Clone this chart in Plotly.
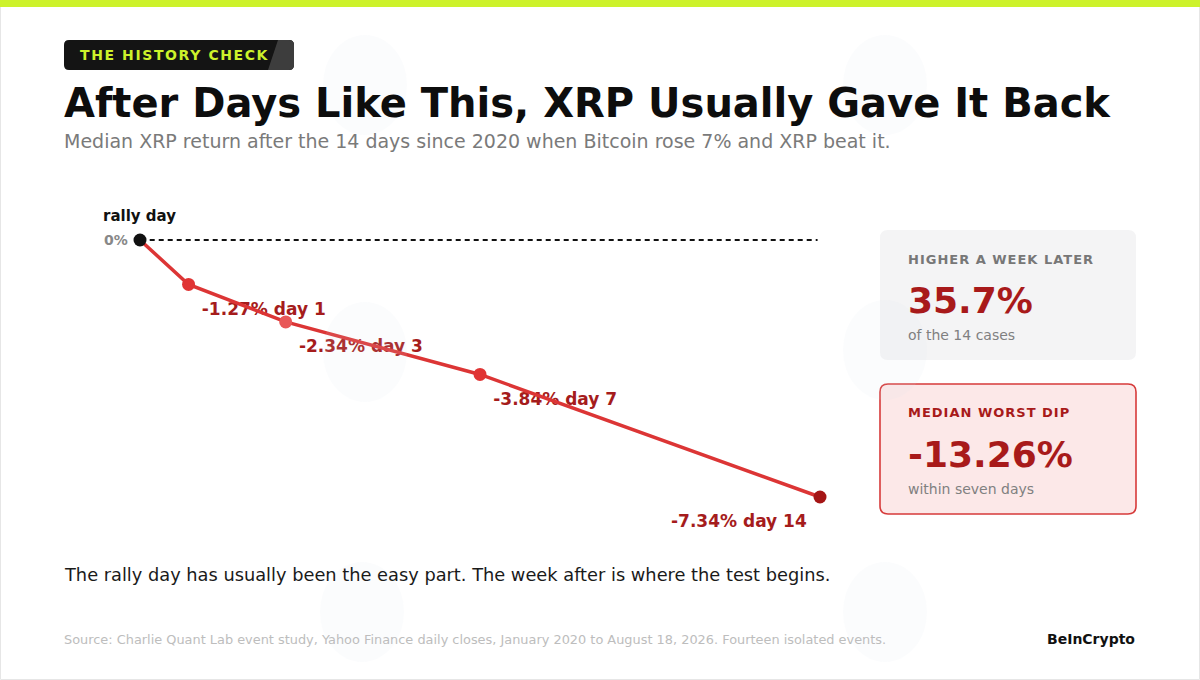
import plotly.graph_objects as go

# ---- data ----
DAYS = [0, 1, 3, 7, 14]
MEDIAN_RETURN = [0.0, -1.27, -2.34, -3.84, -7.34]
POINT_COLORS = ["#111111", "#e03434", "#e85858", "#e03434", "#a51515"]
LABEL_POS = ["middle right", "middle right", "middle right", "middle right", "middle left"]

HIGHER_WEEK_LATER = 35.7
CASES = 14
WORST_DIP = -13.26

W, H = 1200, 680
RED_TXT = "#a51c1c"
FONT = "DejaVu Sans"


def px(x):
    return x / W


def py(y):
    return 1 - y / H


def rrect(x0, y0, x1, y1, r):
    # rounded rectangle path in paper coords from pixel box
    X0, X1 = px(x0), px(x1)
    Y0, Y1 = py(y0), py(y1)
    rx, ry = r / W, r / H
    return (f"M {X0+rx},{Y0} L {X1-rx},{Y0} Q {X1},{Y0} {X1},{Y0-ry} "
            f"L {X1},{Y1+ry} Q {X1},{Y1} {X1-rx},{Y1} L {X0+rx},{Y1} "
            f"Q {X0},{Y1} {X0},{Y1+ry} L {X0},{Y0-ry} Q {X0},{Y0} {X0+rx},{Y0} Z")


labels = ["" if d == 0 else f"{v:.2f}% day {d}" for d, v in zip(DAYS, MEDIAN_RETURN)]

fig = go.Figure()

# labels drawn first so the line sits over them
fig.add_trace(go.Scatter(
    x=DAYS, y=MEDIAN_RETURN, mode="markers+text", text=labels,
    textposition=LABEL_POS,
    marker=dict(size=19.6, color="rgba(0,0,0,0)"),
    textfont=dict(family=FONT, size=17, color=RED_TXT, weight="bold"),
    xaxis="x", yaxis="y", hoverinfo="skip", showlegend=False,
))

fig.add_trace(go.Scatter(
    x=DAYS, y=MEDIAN_RETURN, mode="lines+markers",
    line=dict(color="#dc3535", width=3.5),
    marker=dict(size=13, color=POINT_COLORS),
    xaxis="x", yaxis="y2", hovertemplate="day %{x}: %{y:.2f}%<extra></extra>",
    showlegend=False,
))

shapes = [
    # page frame and top bar
    dict(type="rect", xref="paper", yref="paper", x0=px(0.5), x1=px(1199.5), y0=py(679.5), y1=py(0.5),
         line=dict(color="#e6e6e6", width=1), fillcolor="white", layer="below"),
    dict(type="rect", xref="paper", yref="paper", x0=0, x1=1, y0=py(7), y1=1,
         line=dict(width=0), fillcolor="#cdf22b", layer="below"),
    # badge
    dict(type="path", xref="paper", yref="paper", path=rrect(64, 40, 294, 70, 5),
         line=dict(width=0), fillcolor="#141414", layer="below"),
    dict(type="path", xref="paper", yref="paper",
         path=f"M {px(278)},{py(40)} L {px(289)},{py(40)} Q {px(294)},{py(40)} {px(294)},{py(45)} "
              f"L {px(294)},{py(65)} Q {px(294)},{py(70)} {px(289)},{py(70)} L {px(268)},{py(70)} Z",
         line=dict(width=0), fillcolor="#3d3d3d", layer="below"),
    # cards
    dict(type="path", xref="paper", yref="paper", path=rrect(880, 230, 1136, 360, 8),
         line=dict(width=0), fillcolor="#f4f4f5", layer="below"),
    dict(type="path", xref="paper", yref="paper", path=rrect(880, 384, 1136, 514, 8),
         line=dict(color="#d63a3a", width=1.6), fillcolor="#fce8e8", layer="below"),
    # zero baseline
    dict(type="line", xref="x", yref="y2", x0=0.2, x1=13.95, y0=0, y1=0,
         line=dict(color="#111111", width=2, dash="5px,4px"), layer="below"),
]

# faint watermark marks
for cx, cy in [(365, 85), (885, 85), (365, 352), (885, 350), (362, 612), (885, 612)]:
    shapes.append(dict(type="circle", xref="paper", yref="paper",
                       x0=px(cx - 42), x1=px(cx + 42), y0=py(cy + 50), y1=py(cy - 50),
                       line=dict(width=0), fillcolor="rgba(215,224,240,0.11)", layer="above"))


def note(x, y, text, size, color, anchor="left", bold=False):
    if bold:
        text = f"<b>{text}</b>"
    return dict(xref="paper", yref="paper", x=px(x), y=py(y), text=text, showarrow=False,
                xanchor=anchor, yanchor="middle",
                font=dict(family=FONT, size=size, color=color))


annotations = [
    note(78, 55, '<span style="letter-spacing:1.6px">THE HISTORY CHECK</span>', 14, "#cdf22b", bold=True),
    note(62, 103, "After Days Like This, XRP Usually Gave It Back", 40, "#0d0d0d", bold=True),
    note(62, 141, "Median XRP return after the 14 days since 2020 when Bitcoin rose 7% and XRP beat it.",
         19, "#7a7a7a"),
    note(906, 259, '<span style="letter-spacing:1px">HIGHER A WEEK LATER</span>', 13, "#777777", bold=True),
    note(906, 300, f"{HIGHER_WEEK_LATER:.1f}%", 36, "#a81a1a", bold=True),
    note(906, 335, f"of the {CASES} cases", 14, "#808080"),
    note(906, 413, '<span style="letter-spacing:1px">MEDIAN WORST DIP</span>', 13, "#a81a1a", bold=True),
    note(906, 455, f"{WORST_DIP:.2f}%", 36, "#a81a1a", bold=True),
    note(906, 489, "within seven days", 14, "#808080"),
    note(62, 574, "The rally day has usually been the easy part. The week after is where the test begins.",
         17.8, "#1a1a1a"),
    note(62, 639, "Source: Charlie Quant Lab event study, Yahoo Finance daily closes, January 2020 to "
                  "August 18, 2026. Fourteen isolated events.", 12.9, "#bdbdbd"),
    note(1137, 639, "BeInCrypto", 14, "#111111", anchor="right", bold=True),
    # point labels at the rally day
    dict(xref="x", yref="y2", x=DAYS[0], y=MEDIAN_RETURN[0], text="<b>0%</b>", showarrow=False,
         xanchor="right", yanchor="middle", xshift=-10,
         font=dict(family=FONT, size=14, color="#888888")),
    dict(xref="x", yref="y2", x=DAYS[0], y=MEDIAN_RETURN[0], text="<b>rally day</b>", showarrow=False,
         xanchor="center", yanchor="middle", yshift=24, xshift=-1,
         font=dict(family=FONT, size=15, color="#111111")),
]

# pixel mapping: day 0 -> x=140, day 14 -> x=820; 0% -> y=240, -7.34% -> y=497
x_scale = (820 - 140) / 14
x_range = [-140 / x_scale, (W - 140) / x_scale]
y_scale = (497 - 240) / 7.34
y_top = 240 / y_scale
y_range = [y_top - H / y_scale, y_top]
shift = 26 / y_scale  # labels sit below their points

fig.update_layout(
    width=W, height=H,
    margin=dict(l=0, r=0, t=0, b=0),
    paper_bgcolor="white", plot_bgcolor="rgba(0,0,0,0)",
    xaxis=dict(range=x_range, domain=[0, 1], visible=False, fixedrange=True),
    yaxis=dict(range=[y_range[0] + shift, y_range[1] + shift], domain=[0, 1], visible=False, fixedrange=True),
    yaxis2=dict(range=y_range, overlaying="y", visible=False, fixedrange=True),
    shapes=shapes,
    annotations=annotations,
    font=dict(family=FONT),
)

fig.write_html("out.html", config=dict(displayModeBar=False),
               post_script="document.body.style.margin='0';")
